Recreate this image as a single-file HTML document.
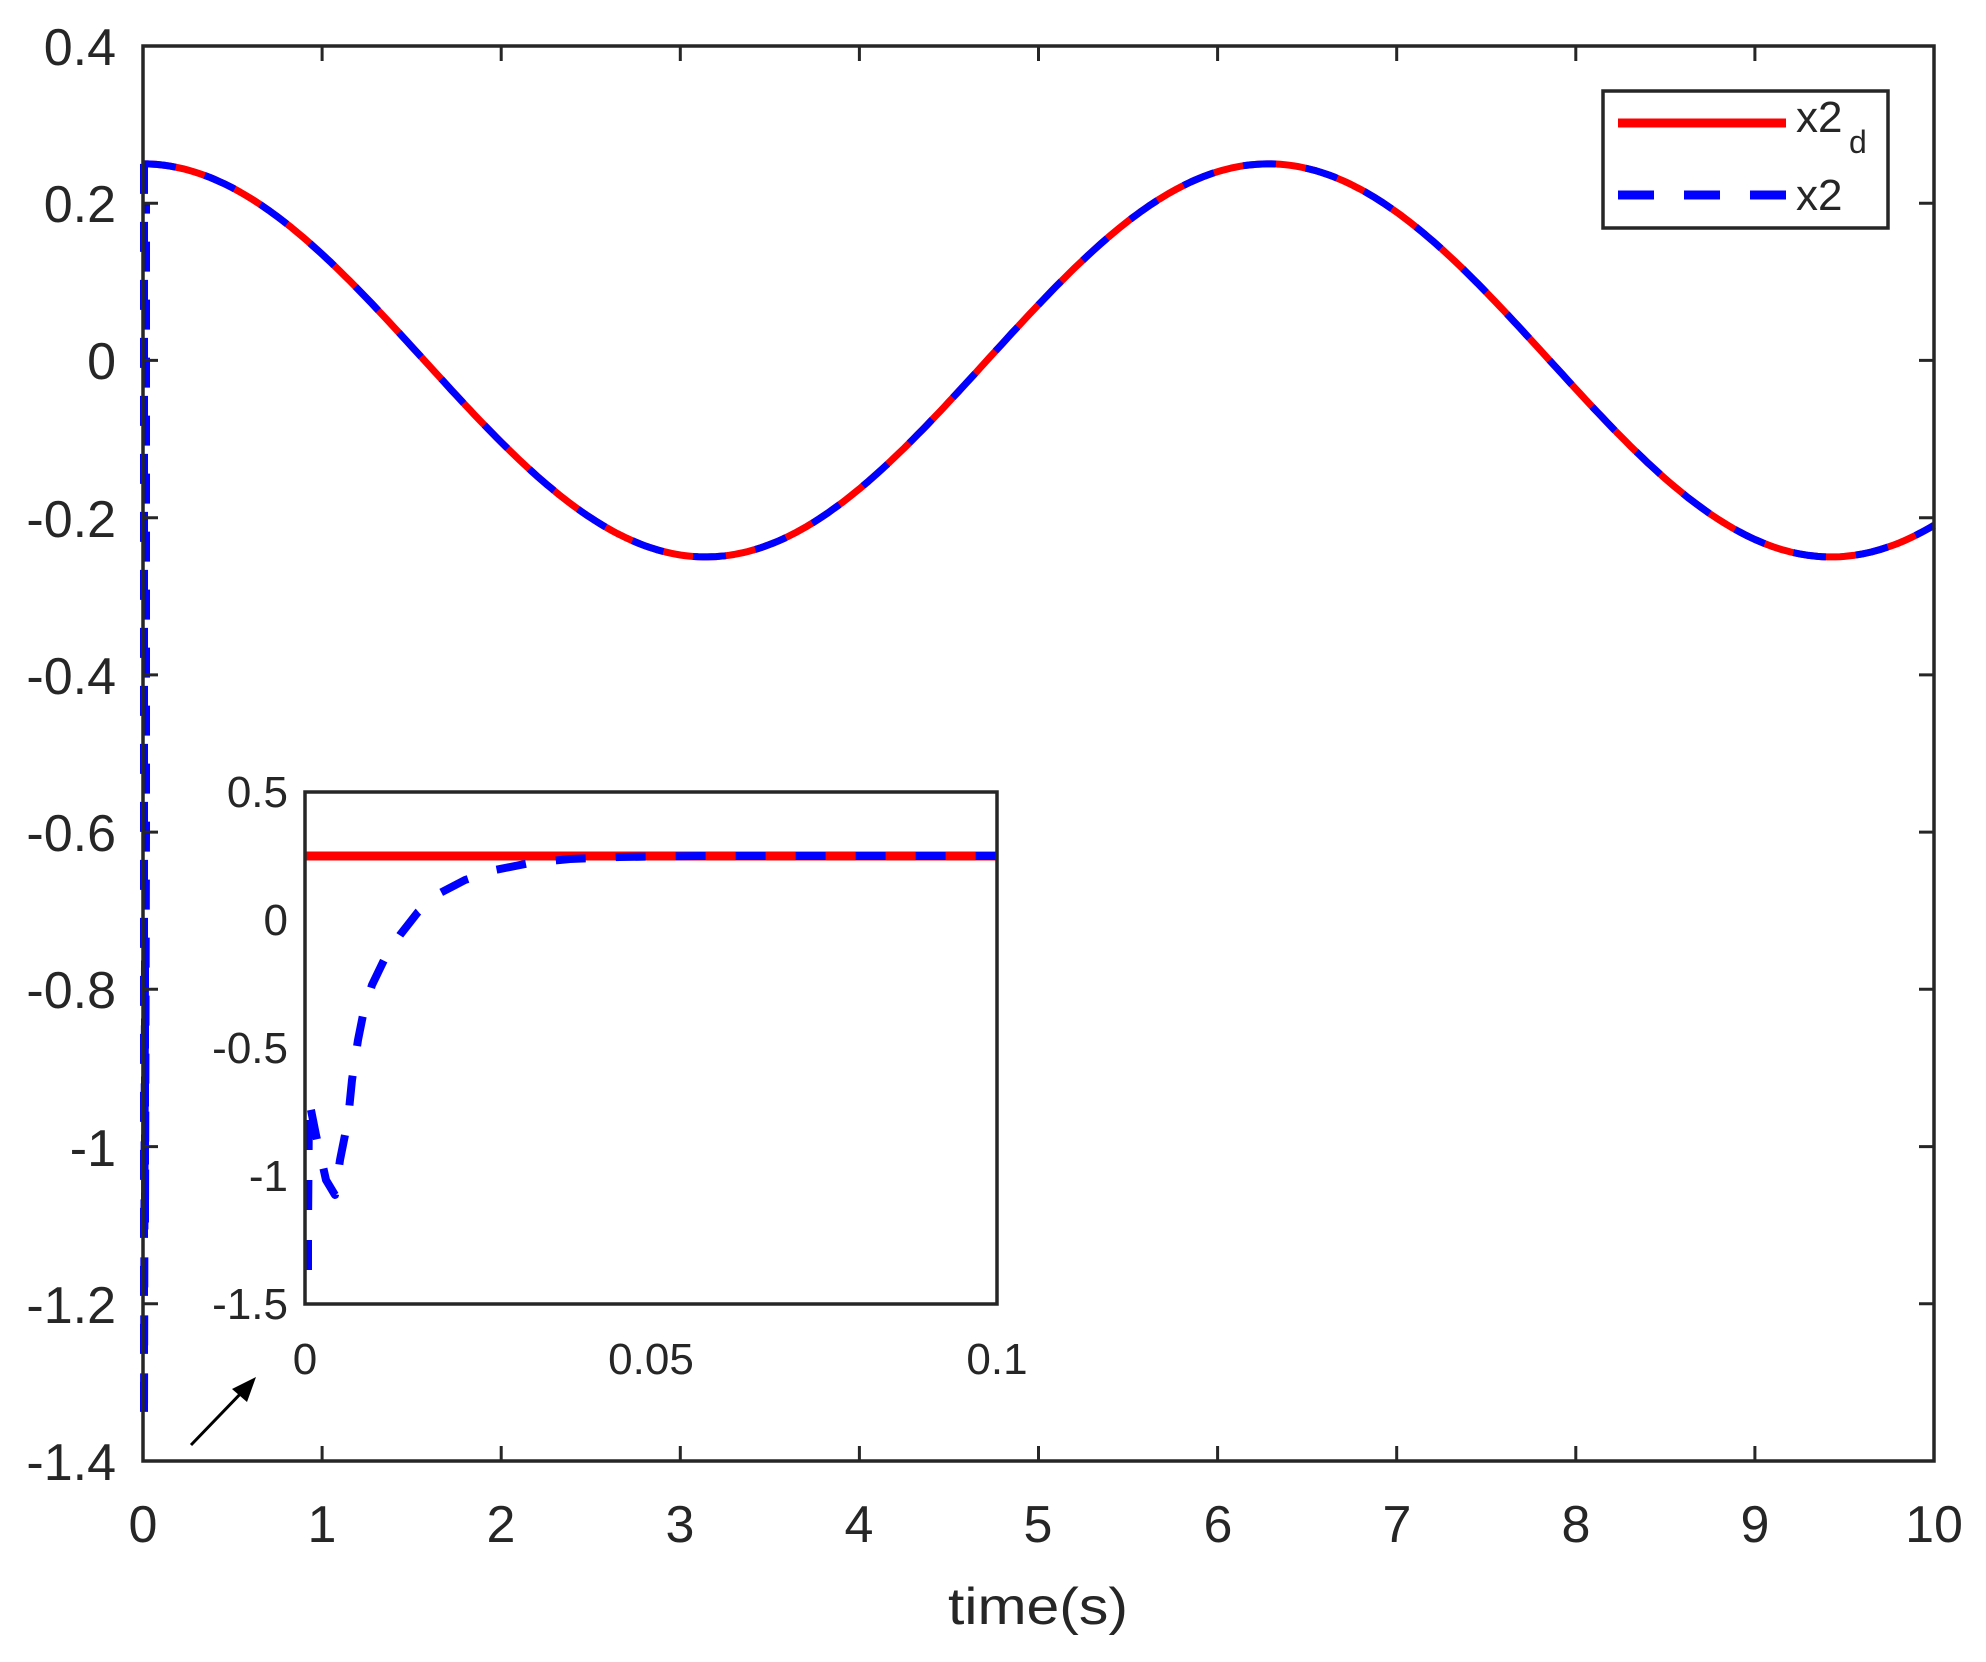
<!DOCTYPE html>
<html><head><meta charset="utf-8"><style>html,body{margin:0;padding:0;background:#fff;}svg{display:block}</style></head>
<body>
<svg width="1986" height="1662" xmlns="http://www.w3.org/2000/svg" font-family="Liberation Sans, sans-serif">
<rect width="1986" height="1662" fill="#fff"/>
<g fill="none" stroke-linejoin="round">
<path id="redMain" stroke="#ff0000" stroke-width="7" d=""/>
<path id="blueMain" stroke="#0000ff" stroke-width="7" stroke-dasharray="33 30" d=""/>
<path id="blueV" stroke="#0000ff" stroke-width="8" stroke-dasharray="30 28" d=""/>
</g>
<!-- axes -->
<rect x="143" y="46" width="1791" height="1415" fill="none" stroke="#262626" stroke-width="3.5"/>
<g stroke="#262626" stroke-width="3">
<path d="M322.1,1461v-15M501.2,1461v-15M680.3,1461v-15M859.4,1461v-15M1038.5,1461v-15M1217.6,1461v-15M1396.7,1461v-15M1575.8,1461v-15M1754.9,1461v-15"/>
<path d="M322.1,46v15M501.2,46v15M680.3,46v15M859.4,46v15M1038.5,46v15M1217.6,46v15M1396.7,46v15M1575.8,46v15M1754.9,46v15"/>
<path d="M143,203.2h15M143,360.4h15M143,517.7h15M143,674.9h15M143,832.1h15M143,989.3h15M143,1146.6h15M143,1303.8h15"/>
<path d="M1934,203.2h-15M1934,360.4h-15M1934,517.7h-15M1934,674.9h-15M1934,832.1h-15M1934,989.3h-15M1934,1146.6h-15M1934,1303.8h-15"/>
</g>
<g font-size="52" fill="#262626" text-anchor="end">
<text x="116" y="65">0.4</text>
<text x="116" y="222">0.2</text>
<text x="116" y="379">0</text>
<text x="116" y="537">-0.2</text>
<text x="116" y="694">-0.4</text>
<text x="116" y="851">-0.6</text>
<text x="116" y="1008">-0.8</text>
<text x="116" y="1166">-1</text>
<text x="116" y="1323">-1.2</text>
<text x="116" y="1480">-1.4</text>
</g>
<g font-size="52" fill="#262626" text-anchor="middle">
<text x="143" y="1542">0</text><text x="322" y="1542">1</text><text x="501" y="1542">2</text><text x="680" y="1542">3</text><text x="859" y="1542">4</text><text x="1038" y="1542">5</text><text x="1218" y="1542">6</text><text x="1397" y="1542">7</text><text x="1576" y="1542">8</text><text x="1755" y="1542">9</text><text x="1934" y="1542">10</text>
<text x="1038" y="1624" textLength="180" lengthAdjust="spacingAndGlyphs">time(s)</text>
</g>
<!-- legend -->
<rect x="1603" y="91" width="285" height="137" fill="#fff" stroke="#262626" stroke-width="3.5"/>
<line x1="1618" y1="123" x2="1786" y2="123" stroke="#ff0000" stroke-width="9"/>
<line x1="1618" y1="195" x2="1786" y2="195" stroke="#0000ff" stroke-width="9" stroke-dasharray="36 30"/>
<text x="1796" y="132" font-size="44" fill="#262626">x2</text>
<text x="1849" y="153" font-size="32" fill="#262626">d</text>
<text x="1796" y="210" font-size="44" fill="#262626">x2</text>
<!-- arrow -->
<line x1="191" y1="1445" x2="245" y2="1389" stroke="#000" stroke-width="3"/>
<polygon points="256,1377 232,1389 247,1402" fill="#000"/>
<!-- inset -->
<rect x="305" y="792" width="692" height="512" fill="#fff"/>
<line x1="305" y1="856" x2="997" y2="856" stroke="#ff0000" stroke-width="9"/>
<polyline fill="none" stroke="#0000ff" stroke-width="8" stroke-dasharray="30 30" stroke-linejoin="round" points="308,1270 308,1230 309,1100 316,1135 326,1180 335,1195 340,1160 348,1120 352,1080 358,1040 364,1010 372,985 385,958 400,935 418,912 440,893 465,880 495,870 530,863 570,859 620,857 700,856 997,856"/>
<rect x="305" y="792" width="692" height="512" fill="none" stroke="#262626" stroke-width="3.5"/>
<g font-size="44" fill="#262626" text-anchor="end">
<text x="288" y="807">0.5</text>
<text x="288" y="935">0</text>
<text x="288" y="1063">-0.5</text>
<text x="288" y="1191">-1</text>
<text x="288" y="1319">-1.5</text>
</g>
<g font-size="44" fill="#262626" text-anchor="middle">
<text x="305" y="1374">0</text>
<text x="651" y="1374">0.05</text>
<text x="997" y="1374">0.1</text>
</g>
</svg>
<script>
(function(){
 var x0=143,sx=179.1,y0=360.4,sy=786.1;
 var v="M144,"+(y0-0.25*sy)+" L144,"+(y0+1.35*sy)+" L145,"+(y0+0.75*sy)+" L145,"+(y0+1.1*sy)+" L146,"+(y0+0.6*sy)+" L146,"+(y0-0.2*sy);
 document.getElementById("blueV").setAttribute("d",v);
 var d="",r="";
 for(var i=0;i<=400;i++){var t=i*0.025;var p=(x0+t*sx).toFixed(1)+","+(y0-0.25*Math.cos(t)*sy).toFixed(1);d+=(i?" L":"M")+p;r+=(i?" L":"M")+p;}
 document.getElementById("blueMain").setAttribute("d",d);
 document.getElementById("redMain").setAttribute("d",r);
})();
</script>
</body></html>
